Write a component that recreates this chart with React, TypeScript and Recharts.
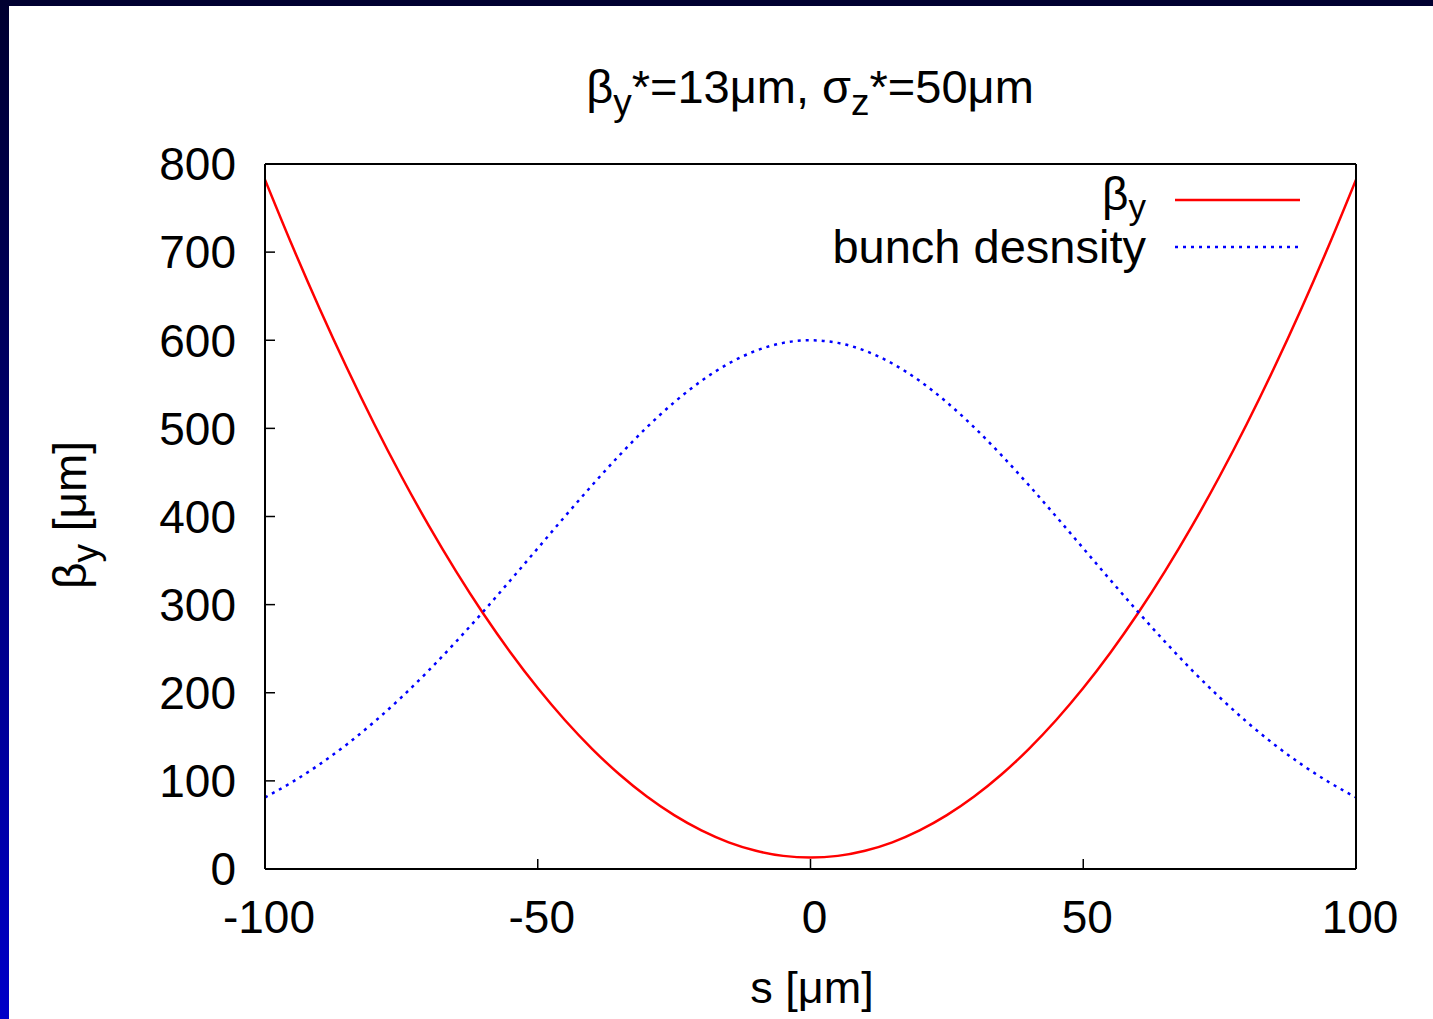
import React from 'react';
import { LineChart, Line, XAxis, YAxis } from 'recharts';

// positions along the beam axis s [μm]
const sValues = [
  -100, -95, -90, -85, -80, -75, -70, -65, -60, -55, -50, -45, -40, -35, -30, -25, -20, -15, -10, -5,
  0, 5, 10, 15, 20, 25, 30, 35, 40, 45, 50, 55, 60, 65, 70, 75, 80, 85, 90, 95, 100,
];
// β_y [μm]
const betaValues = [
  782.2, 707.2, 636.1, 568.8, 505.3, 445.7, 389.9, 338.0, 289.9, 245.7, 205.3, 168.8, 136.1, 107.2, 82.2, 61.1, 43.8, 30.3, 20.7, 14.9,
  13.0, 14.9, 20.7, 30.3, 43.8, 61.1, 82.2, 107.2, 136.1, 168.8, 205.3, 245.7, 289.9, 338.0, 389.9, 445.7, 505.3, 568.8, 636.1, 707.2, 782.2,
];
// bunch density (arbitrary units, plotted on the same scale)
const densityValues = [
  81.2, 98.7, 118.7, 141.4, 166.8, 194.8, 225.2, 257.8, 292.1, 327.7, 363.9, 400.2, 435.7, 469.6, 501.2, 529.5, 553.9, 573.6, 588.1, 597.0,
  600.0, 597.0, 588.1, 573.6, 553.9, 529.5, 501.2, 469.6, 435.7, 400.2, 363.9, 327.7, 292.1, 257.8, 225.2, 194.8, 166.8, 141.4, 118.7, 98.7, 81.2,
];
const xTicks = [-100, -50, 0, 50, 100];
const yTicks = [0, 100, 200, 300, 400, 500, 600, 700, 800];

const data = sValues.map((s, i) => ({ s, beta: betaValues[i], density: densityValues[i] }));

const FONT = '"Liberation Sans", Arial, Helvetica, sans-serif';
const RED = '#ff0000';
const BLUE = '#0000ff';
const TICK_FONT = 46;

export default function App() {
  return (
    <div style={{ position: 'absolute', left: 0, top: 0, width: 1433, height: 1019, background: 'linear-gradient(to bottom, #000030 0%, #000050 25%, #0000c8 100%)', overflow: 'hidden' }}>
      <div style={{ position: 'absolute', left: 9, top: 6, width: 1424, height: 1013, background: '#ffffff' }} />
      <div style={{ position: 'absolute', left: 0, top: 0 }}>
        <LineChart
          width={1433}
          height={1019}
          data={data}
          margin={{ top: 163, right: 76, bottom: 90, left: 165 }}
          style={{ fontFamily: FONT }}
        >
          <XAxis
            dataKey="s"
            type="number"
            domain={[-100, 100]}
            ticks={xTicks}
            allowDataOverflow
            height={60}
            tickSize={-10}
            tickMargin={41}
            tick={{ fill: '#000', fontSize: TICK_FONT, fontFamily: FONT, dx: 4 }}
            axisLine={{ stroke: '#000', strokeWidth: 2 }}
            tickLine={{ stroke: '#000', strokeWidth: 1.5 }}
          />
          <XAxis
            xAxisId="top"
            orientation="top"
            dataKey="s"
            type="number"
            domain={[-100, 100]}
            ticks={xTicks}
            allowDataOverflow
            height={1}
            tickSize={-10}
            tick={false}
            axisLine={{ stroke: '#000', strokeWidth: 2 }}
            tickLine={{ stroke: '#000', strokeWidth: 1.5 }}
          />
          <YAxis
            type="number"
            domain={[0, 800]}
            ticks={yTicks}
            allowDataOverflow
            width={100}
            tickSize={-10}
            tickMargin={39}
            tick={{ fill: '#000', fontSize: TICK_FONT, fontFamily: FONT }}
            axisLine={{ stroke: '#000', strokeWidth: 2 }}
            tickLine={{ stroke: '#000', strokeWidth: 1.5 }}
          />
          <YAxis
            yAxisId="right"
            orientation="right"
            type="number"
            domain={[0, 800]}
            ticks={yTicks}
            allowDataOverflow
            width={1}
            tickSize={-10}
            tick={false}
            axisLine={{ stroke: '#000', strokeWidth: 2 }}
            tickLine={{ stroke: '#000', strokeWidth: 1.5 }}
          />
          <Line
            type="monotone"
            dataKey="beta"
            name="βy"
            stroke={RED}
            strokeWidth={2.5}
            dot={false}
            activeDot={false}
            isAnimationActive={false}
          />
          <Line
            type="monotone"
            dataKey="density"
            name="bunch desnsity"
            stroke={BLUE}
            strokeWidth={2.5}
            strokeDasharray="3 5"
            dot={false}
            activeDot={false}
            isAnimationActive={false}
          />
          {/* title */}
          <text x={810} y={103} textAnchor="middle" fontSize={47} fontFamily={FONT} fill="#000">
            β<tspan dy={12} fontSize={37}>y</tspan>
            <tspan dy={-12}>*=13μm, σ</tspan>
            <tspan dy={12} fontSize={37}>z</tspan>
            <tspan dy={-12}>*=50μm</tspan>
          </text>
          {/* axis labels */}
          <text x={812} y={1003} textAnchor="middle" fontSize={45} fontFamily={FONT} fill="#000">s [μm]</text>
          <text x={86} y={515} textAnchor="middle" fontSize={46} fontFamily={FONT} fill="#000" transform="rotate(-90 86 515)">
            β<tspan dy={12} fontSize={37}>y</tspan>
            <tspan dy={-12}> [μm]</tspan>
          </text>
          {/* legend */}
          <text x={1146} y={210} textAnchor="end" fontSize={46} fontFamily={FONT} fill="#000">
            β<tspan dy={9} fontSize={35}>y</tspan>
          </text>
          <line x1={1175} x2={1300} y1={200} y2={200} stroke={RED} strokeWidth={2.5} />
          <text x={1146} y={263} textAnchor="end" fontSize={47} fontFamily={FONT} fill="#000">bunch desnsity</text>
          <line x1={1175} x2={1298} y1={247} y2={247} stroke={BLUE} strokeWidth={2.5} strokeDasharray="3 5" />
        </LineChart>
      </div>
    </div>
  );
}
